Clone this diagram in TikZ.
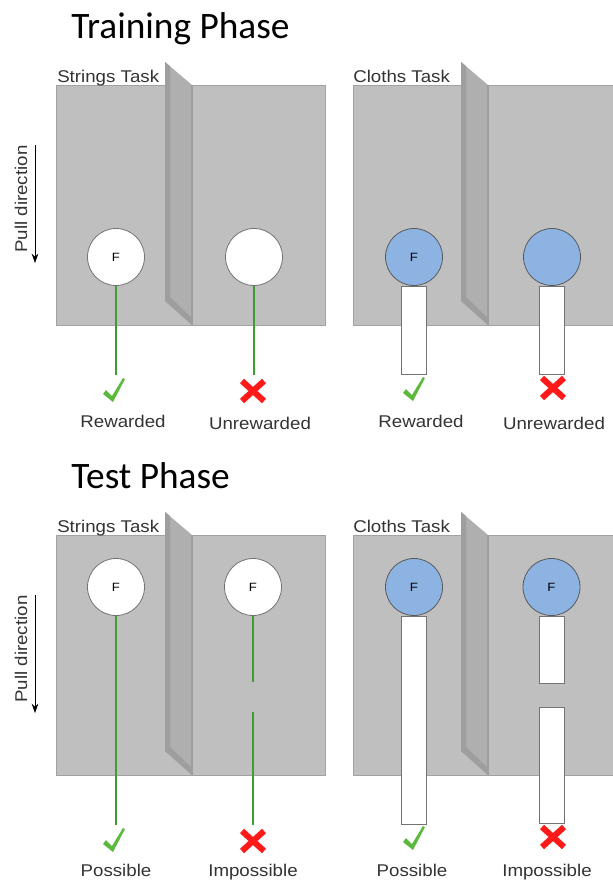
\documentclass[tikz,border=0pt]{standalone}
\usepackage{fontspec}
\setmainfont{Liberation Sans}
\newfontfamily\labfont[FakeStretch=1.1]{Liberation Sans}
\newfontfamily\titlefont{Carlito}
\usetikzlibrary{arrows.meta}
\definecolor{panel}{HTML}{BFBFBF}
\definecolor{divider}{HTML}{AFAFAF}
\definecolor{divdark}{HTML}{9E9E9E}
\definecolor{blu}{HTML}{8DB3E2}
\definecolor{strg}{HTML}{3F9C35}
\definecolor{chk}{HTML}{5DB83E}
\definecolor{crs}{HTML}{FF1A1A}
\definecolor{txt}{HTML}{333333}
\newcommand\mydivider{%
  \fill[divider] (165,62) -- (192,85) -- (192,325) -- (165,301) -- cycle;
  \fill[divdark] (165,62) -- (170,66) -- (170,297) -- (192,318) -- (192,325) -- (165,301) -- cycle;
  \draw[divdark, line width=0.8pt] (192,85) -- (192,325);
}
\begin{document}
\begin{tikzpicture}[x=0.75pt,y=-0.75pt,
  panelbox/.style={fill=panel, draw=panel!85!black, line width=0.5pt},
  wcirc/.style={circle, fill=white, draw=black!55, line width=0.6pt, minimum size=42.75pt, inner sep=0pt, font=\labfont\fontsize{9}{10}\selectfont},
  bcirc/.style={wcirc, fill=blu, draw=black!65},
  cloth/.style={rectangle, fill=white, draw=black!55, line width=0.6pt, minimum width=18.75pt, inner sep=0pt, anchor=north},
  strline/.style={strg, line width=1.1pt},
  lab/.style={font=\labfont\fontsize{12.75pt}{14pt}\selectfont, text=txt, anchor=base, inner sep=0pt},
  ttl/.style={font=\titlefont\fontsize{28pt}{31pt}\selectfont, anchor=base west, inner sep=0pt},
  arr/.style={-{Stealth[length=7pt,width=5pt]}, line width=0.6pt},
  chkmark/.pic={\fill[chk] (-11,4) -- (-8,0) -- (-2,6) -- (9,-12) -- (11,-11) -- (-1,12) -- cycle;},
  crossmark/.pic={\draw[crs, line width=4.5pt] (-11,-10) -- (11,10) (11,-10) -- (-11,10);}
]
\useasboundingbox (0,0) rectangle (613,889);

% ---------------- Training phase ----------------
\node[ttl] (title1) at (71,38) {Training Phase};

\fill[panelbox] (56,85) rectangle (325,325);
\fill[panelbox] (353,85) rectangle (614,325);
\mydivider
\begin{scope}[shift={(296,0)}]\mydivider\end{scope}

\node[lab, anchor=base west] (task1) at (57,82) {Strings Task};
\node[lab, anchor=base west] (task2) at (353,82) {Cloths Task};

\node[lab, rotate=90, anchor=center] (pull1) at (21,199) {Pull direction};
\coordinate (pa1) at (35,145);
\coordinate (pb1) at (35,263);
\draw[arr] (pa1) -- (pb1);

\node[wcirc] (s1) at (116,257) {F};
\node[wcirc] (s2) at (254,257) {};
\coordinate (s1e) at (116,375);
\coordinate (s2e) at (254,375);
\draw[strline] (s1.south) -- (s1e);
\draw[strline] (s2.south) -- (s2e);

\node[bcirc] (c1) at (414,257) {F};
\node[bcirc] (c2) at (552,257) {};
\node[cloth, minimum height=66pt] (r1) at (c1.south) {};
\node[cloth, minimum height=66pt] (r2) at (c2.south) {};

\pic at (114,390) {chkmark};
\pic at (253,391) {crossmark};
\pic at (414,389) {chkmark};
\pic at (553,388) {crossmark};

\node[lab] (l1) at (123,427) {Rewarded};
\node[lab] (l2) at (260,429) {Unrewarded};
\node[lab] (l3) at (421,427) {Rewarded};
\node[lab] (l4) at (554,429) {Unrewarded};

% ---------------- Test phase ----------------
\node[ttl] (title2) at (71,488) {Test Phase};

\fill[panelbox] (56,535) rectangle (325,775);
\fill[panelbox] (353,535) rectangle (614,775);
\begin{scope}[shift={(0,450)}]\mydivider\end{scope}
\begin{scope}[shift={(296,450)}]\mydivider\end{scope}

\node[lab, anchor=base west] (task3) at (57,532) {Strings Task};
\node[lab, anchor=base west] (task4) at (353,532) {Cloths Task};

\node[lab, rotate=90, anchor=center] (pull2) at (21,649) {Pull direction};
\coordinate (pa2) at (35,595);
\coordinate (pb2) at (35,713);
\draw[arr] (pa2) -- (pb2);

\node[wcirc] (t1) at (116,587) {F};
\node[wcirc] (t2) at (253,587) {F};
\coordinate (t1e) at (116,825);
\coordinate (t2m) at (253,682);
\coordinate (t2n) at (253,712);
\coordinate (t2e) at (253,825);
\draw[strline] (t1.south) -- (t1e);
\draw[strline] (t2.south) -- (t2m);
\draw[strline] (t2n) -- (t2e);

\node[bcirc] (d1) at (414,587) {F};
\node[bcirc] (d2) at (551.5,587) {F};
\node[cloth, minimum height=156pt] (q1) at (d1.south) {};
\node[cloth, minimum height=50.25pt] (q2) at (d2.south) {};
\node[cloth, minimum height=87pt] (q3) at (551.5,707) {};

\pic at (114,840) {chkmark};
\pic at (253,841) {crossmark};
\pic at (414,838) {chkmark};
\pic at (553,837) {crossmark};

\node[lab] (l5) at (116,876) {Possible};
\node[lab] (l6) at (253,876) {Impossible};
\node[lab] (l7) at (412,876) {Possible};
\node[lab] (l8) at (547,876) {Impossible};
\end{tikzpicture}
\end{document}
